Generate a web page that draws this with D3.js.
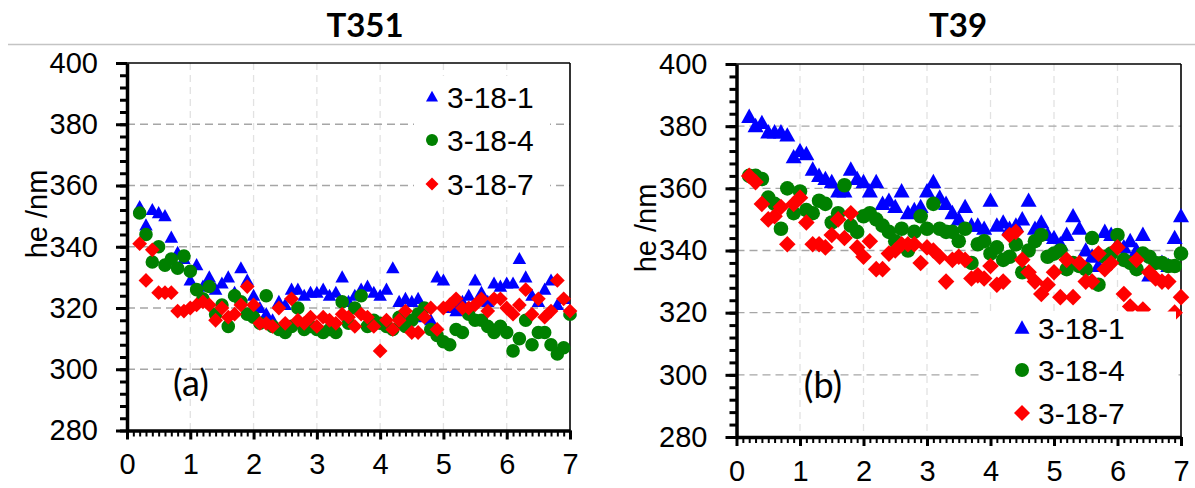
<!DOCTYPE html>
<html>
<head>
<meta charset="utf-8">
<script src="https://cdn.jsdelivr.net/npm/d3@7"></script>
<style>
  html, body { margin: 0; padding: 0; background: #fff; }
  svg { display: block; }
  .tick text { font-family: "Liberation Sans", Arial, sans-serif; fill: #000; }
</style>
</head>
<body>
<svg id="chart" width="1195" height="488"></svg>
<script>
// Indentation depth samples (µm) shared by every series
const depth = [0.2,0.3,0.4,0.5,0.6,0.7,0.8,0.9,1.0,1.1,1.2,1.3,1.4,1.5,1.6,1.7,1.8,1.9,2.0,
  2.1,2.2,2.3,2.4,2.5,2.6,2.7,2.8,2.9,3.0,3.1,3.2,3.3,3.4,3.5,3.6,3.7,3.8,3.9,4.0,
  4.1,4.2,4.3,4.4,4.5,4.6,4.7,4.8,4.9,5.0,5.1,5.2,5.3,5.4,5.5,5.6,5.7,5.8,5.9,6.0,
  6.1,6.2,6.3,6.4,6.5,6.6,6.7,6.8,6.9,7.0];

const seriesNames = ["3-18-1", "3-18-4", "3-18-7"];
const panelTitles = ["T351", "T39"];
const panelTags = ["(a)", "(b)"];
const yTicks = [280, 300, 320, 340, 360, 380, 400];
const xTicks = [0, 1, 2, 3, 4, 5, 6, 7];
const yLabel = "he /nm";

// T351 panel
const t351_1 = [353,347,352,351,350,343,338,336,329,334,327,330,326,328,330,325,333,329,324,
  320,318,316,322,321,326,326,324,325,325,326,324,325,330,322,324,326,327,325,324,
  326,333,322,323,322,323,317,316,330,329,320,319,322,324,329,325,322,328,327,328,
  328,336,330,324,322,326,329,321,323,319];
const t351_4 = [351,344,335,340,334,336,333,337,332,326,323,327,318,321,314,324,322,318,317,
  315,324,314,313,312,314,320,313,314,313,312,313,312,322,315,320,324,314,316,315,
  314,313,317,314,316,318,320,313,311,309,308,313,312,318,316,316,314,312,314,312,
  306,310,316,308,312,312,308,305,307,318];
const t351_7 = [341,329,339,325,325,325,319,319,320,321,322,321,316,320,317,318,321,327,321,
  315,315,314,320,315,323,316,315,317,314,317,316,315,318,317,314,318,317,314,306,
  316,313,316,319,312,312,317,320,313,320,321,323,320,320,321,323,319,323,323,320,
  318,321,326,318,323,317,319,329,323,319];

// T39 panel
const t39_1 = [383,380,381,378,378,378,377,370,372,371,366,364,363,362,359,359,366,363,362,
  359,362,355,356,354,359,352,353,354,359,362,357,355,352,350,354,348,348,347,356,
  348,349,347,348,350,356,347,349,345,344,342,345,351,347,340,338,335,346,345,342,
  341,343,340,345,332,336,336,335,344,351];
const t39_4 = [364,364,363,357,355,347,360,352,359,353,352,356,355,349,352,361,348,346,351,
  352,350,348,346,343,347,340,346,351,347,355,347,346,346,343,347,336,342,343,339,
  341,337,338,342,333,340,343,345,338,339,340,334,336,335,334,344,329,338,339,345,
  337,336,334,339,338,336,336,335,335,339];
const t39_7 = [364,362,355,350,351,354,342,355,357,349,342,342,341,345,350,344,352,341,338,
  343,334,334,339,340,342,342,342,336,341,340,338,330,337,338,337,331,332,331,335,
  329,330,345,346,337,333,330,326,329,333,325,337,325,336,330,330,339,334,336,341,
  326,322,337,321,333,331,330,330,320,325];

const colors = ["#0000ff", "#008000", "#ff0000"];
const shapes = ["triangle", "circle", "diamond"];

const panels = [
  { title: panelTitles[0], tag: panelTags[0], series: [t351_1, t351_4, t351_7],
    left: 127, right: 570, top: 63, bottom: 430.5, titleX: 365, ylabX: 37, ylabY: 214,
    markSize: [13.5, 6.8, 7.4],
    legend: { box: [414, 76, 136, 124], x: 432, y: [97, 140, 184], size: [12, 6, 6.5], textX: 447 },
    tagPos: [191, 396] },
  { title: panelTitles[1], tag: panelTags[1], series: [t39_1, t39_4, t39_7],
    left: 736.5, right: 1181, top: 64, bottom: 437, titleX: 958, ylabX: 646, ylabY: 228,
    markSize: [16, 7.3, 8.3],
    legend: { box: [982, 311.5, 194, 124], x: 1022, y: [328, 370, 413], size: [15, 7, 8], textX: 1038 },
    tagPos: [823, 398] }
];

const svg = d3.select("#chart");

// Heading rule across both panels
svg.append("line").attr("x1", 8).attr("x2", 1195).attr("y1", 44.5).attr("y2", 44.5)
  .attr("stroke", "#c4c4c4").attr("stroke-width", 1.5);

function markerPath(shape, s) {
  const p = d3.path();
  if (shape === "triangle") {
    const h = s * 0.9;
    p.moveTo(0, -h * 0.58); p.lineTo(s / 2, h * 0.42); p.lineTo(-s / 2, h * 0.42); p.closePath();
  } else if (shape === "diamond") {
    p.moveTo(0, -s); p.lineTo(s, 0); p.lineTo(0, s); p.lineTo(-s, 0); p.closePath();
  } else {
    p.arc(0, 0, s, 0, 2 * Math.PI);
  }
  return p.toString();
}

panels.forEach(P => {
  const g = svg.append("g");
  const x = d3.scaleLinear().domain([0, 7]).range([P.left, P.right]);
  const y = d3.scaleLinear().domain([280, 400]).range([P.bottom, P.top]);

  g.append("text").attr("x", P.titleX).attr("y", 37).attr("text-anchor", "middle")
    .attr("font-family", "Lato, 'Open Sans', sans-serif").attr("font-weight", "bold")
    .attr("font-size", 33).text(P.title);

  // grid
  g.append("g").selectAll("line").data([1, 2, 3, 4, 5, 6]).join("line")
    .attr("x1", d => x(d)).attr("x2", d => x(d)).attr("y1", P.top).attr("y2", P.bottom)
    .attr("stroke", "#e2e2e2").attr("stroke-width", 1.3).attr("stroke-dasharray", "7,5");
  g.append("g").selectAll("line").data([300, 320, 340, 360, 380]).join("line")
    .attr("x1", P.left).attr("x2", P.right).attr("y1", d => y(d)).attr("y2", d => y(d))
    .attr("stroke", "#a6a6a6").attr("stroke-width", 1.4).attr("stroke-dasharray", "8,5");

  // frame (top and right)
  g.append("line").attr("x1", P.left).attr("x2", P.right).attr("y1", P.top).attr("y2", P.top)
    .attr("stroke", "#000").attr("stroke-width", 1.6);
  g.append("line").attr("x1", P.right).attr("x2", P.right).attr("y1", P.top).attr("y2", P.bottom)
    .attr("stroke", "#000").attr("stroke-width", 1.6);

  // data markers
  P.series.forEach((vals, si) => {
    g.append("g").selectAll("path").data(vals).join("path")
      .attr("d", markerPath(shapes[si], P.markSize[si]))
      .attr("transform", (v, i) => `translate(${x(depth[i])},${y(v)})`)
      .attr("fill", colors[si]);
  });

  // legend
  const L = P.legend;
  g.append("rect").attr("x", L.box[0]).attr("y", L.box[1]).attr("width", L.box[2]).attr("height", L.box[3])
    .attr("fill", "#fff");
  seriesNames.forEach((name, si) => {
    g.append("path").attr("d", markerPath(shapes[si], L.size[si]))
      .attr("transform", `translate(${L.x},${L.y[si]})`).attr("fill", colors[si]);
    g.append("text").attr("x", L.textX).attr("y", L.y[si]).attr("dy", "0.36em")
      .attr("font-family", "'Liberation Sans', Arial, sans-serif").attr("font-size", 30)
      .text(name);
  });

  // minor ticks
  const yMinor = d3.axisLeft(y).tickValues(d3.range(280, 401, 4)).tickSize(7).tickFormat("");
  g.append("g").attr("transform", `translate(${P.left},0)`).call(yMinor)
    .call(a => a.select(".domain").remove())
    .call(a => a.selectAll("line").attr("stroke", "#000").attr("stroke-width", 3));
  const xMinor = d3.axisBottom(x).tickValues(d3.range(0, 70.5, 1).map(d => d / 10)).tickSize(6).tickFormat("");
  g.append("g").attr("transform", `translate(0,${P.bottom})`).call(xMinor)
    .call(a => a.select(".domain").remove())
    .call(a => a.selectAll("line").attr("stroke", "#000").attr("stroke-width", 2));

  // major axes
  const yAxis = d3.axisLeft(y).tickValues(yTicks).tickSize(11).tickPadding(18).tickSizeOuter(0)
    .tickFormat(d3.format("d"));
  g.append("g").attr("transform", `translate(${P.left},0)`).call(yAxis)
    .call(a => a.select(".domain").attr("stroke", "#000").attr("stroke-width", 3.5))
    .call(a => a.selectAll("line").attr("stroke", "#000").attr("stroke-width", 3))
    .call(a => a.selectAll("text").attr("font-size", 29));
  const xAxis = d3.axisBottom(x).tickValues(xTicks).tickSize(9).tickPadding(14).tickSizeOuter(0)
    .tickFormat(d3.format("d"));
  g.append("g").attr("transform", `translate(0,${P.bottom})`).call(xAxis)
    .call(a => a.select(".domain").attr("stroke", "#000").attr("stroke-width", 3.5))
    .call(a => a.selectAll("line").attr("stroke", "#000").attr("stroke-width", 3))
    .call(a => a.selectAll("text").attr("font-size", 29));

  // axis title and panel tag
  g.append("text").attr("transform", `translate(${P.ylabX},${P.ylabY}) rotate(-90)`)
    .attr("text-anchor", "middle").attr("dy", "0.36em")
    .attr("font-family", "'Liberation Sans', Arial, sans-serif").attr("font-size", 29)
    .text(yLabel);
  g.append("text").attr("x", P.tagPos[0]).attr("y", P.tagPos[1]).attr("text-anchor", "middle")
    .attr("font-family", "Lato, 'Open Sans', sans-serif").attr("font-size", 36)
    .text(P.tag);
});
</script>
</body>
</html>
